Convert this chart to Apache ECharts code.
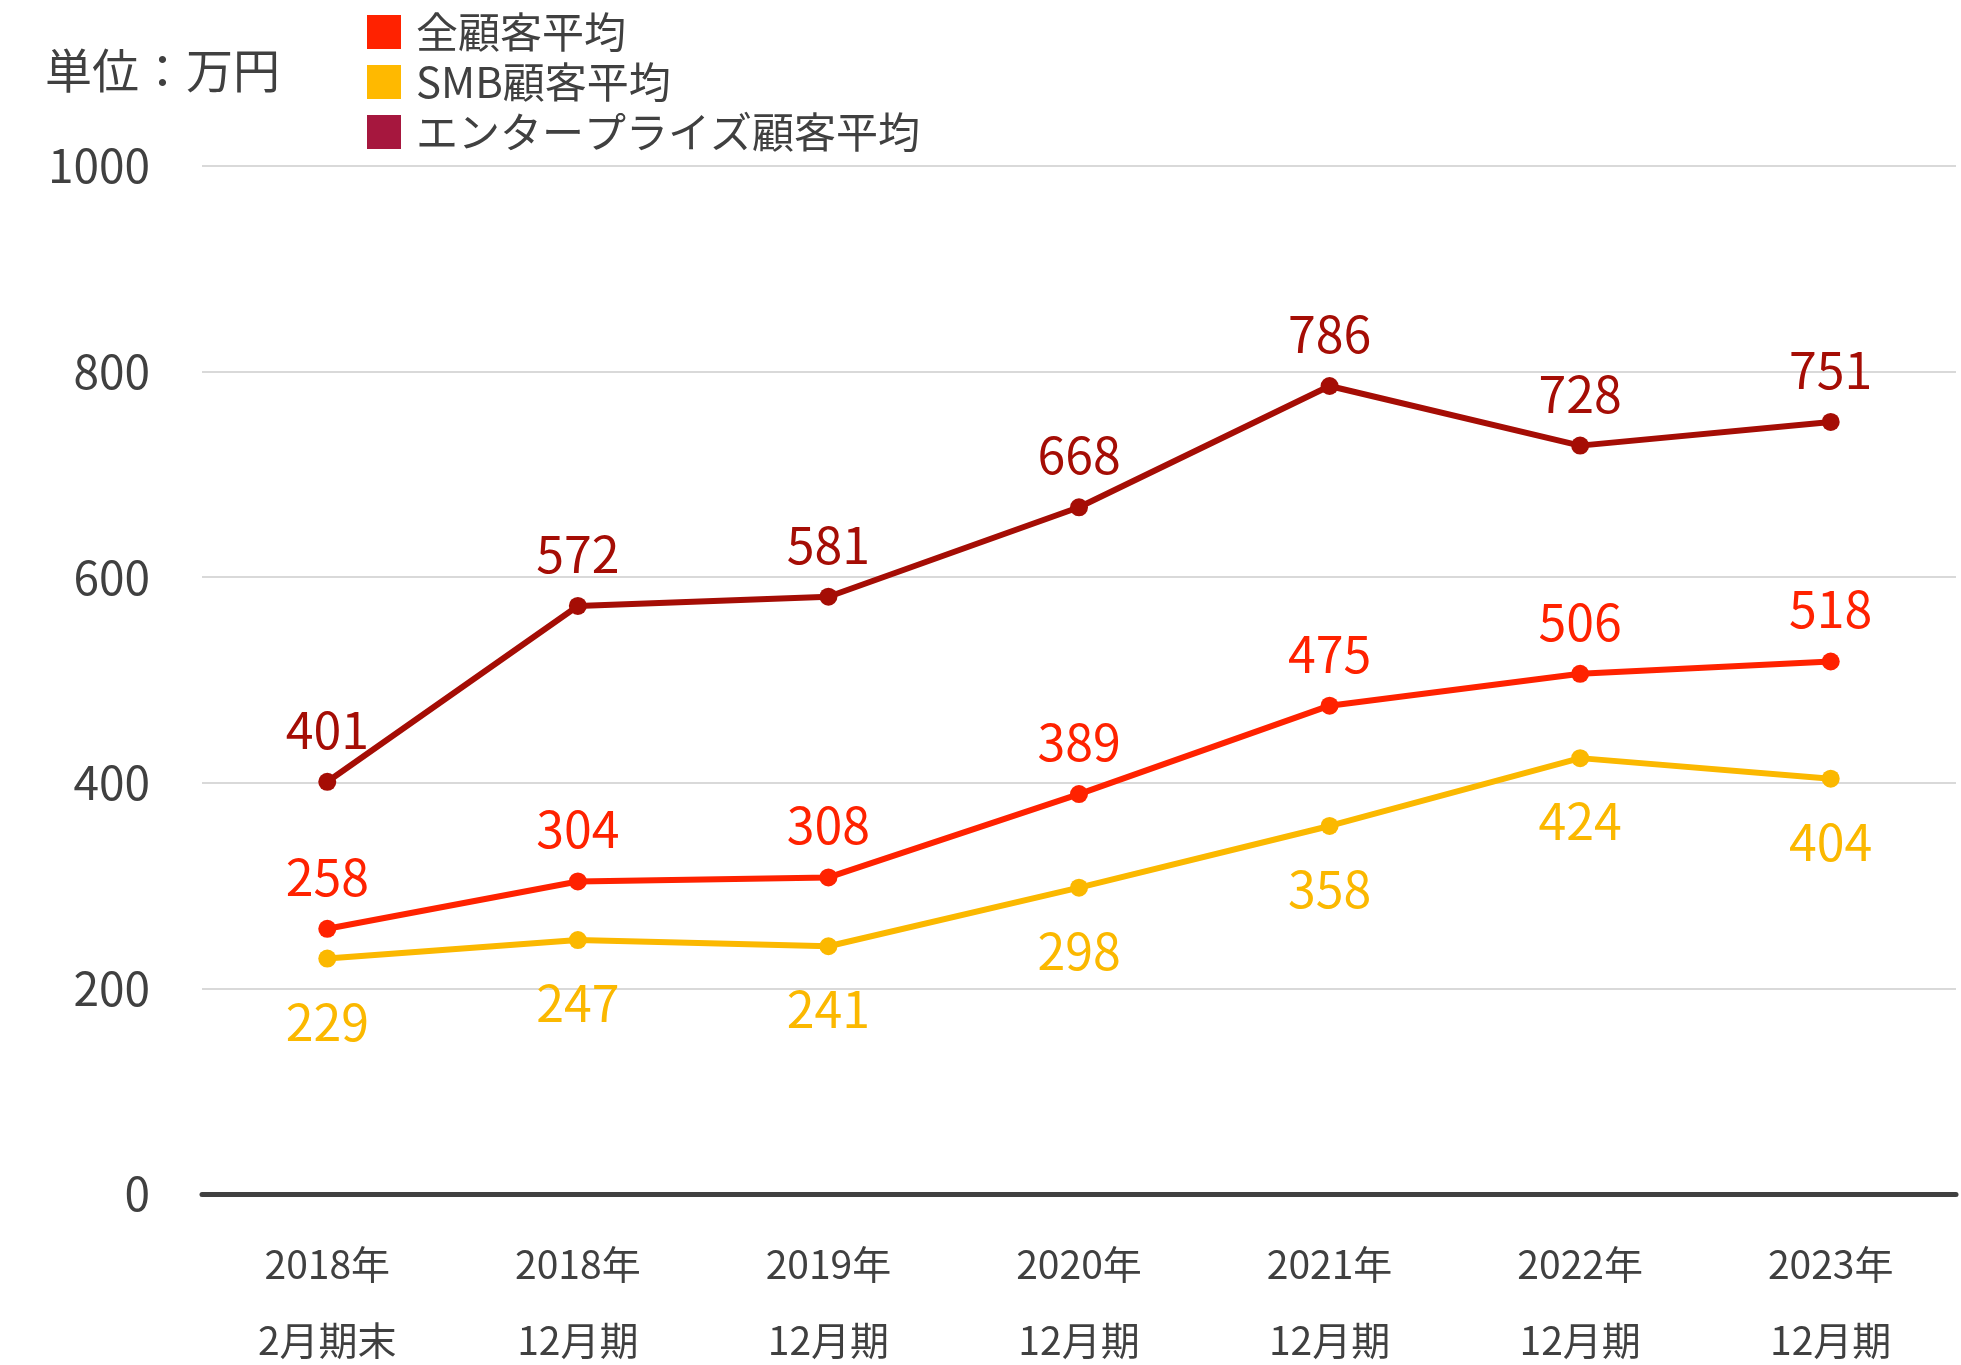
<!DOCTYPE html>
<html lang="ja">
	<head>
		<meta charset="utf-8" />
		<title>顧客平均</title>
		<style>
			html, body { margin: 0; padding: 0; background: #fff; }
			#chart { width: 1961px; height: 1365px; }
		</style>
	</head>
	<body>
		<div id="chart"></div>
		<script type="text/javascript" src="https://cdn.jsdelivr.net/npm/echarts@6/dist/echarts.min.js"></script>
		<script type="text/javascript">
			//カテゴリ
			const categories = ['2018年\n2月期末', '2018年\n12月期', '2019年\n12月期', '2020年\n12月期', '2021年\n12月期', '2022年\n12月期', '2023年\n12月期'];
			//系列データ
			const allAvg = [258, 304, 308, 389, 475, 506, 518];
			const smbAvg = [229, 247, 241, 298, 358, 424, 404];
			const entAvg = [401, 572, 581, 668, 786, 728, 751];
			const seriesNames = ['全顧客平均', 'SMB顧客平均', 'エンタープライズ顧客平均'];
			const yTicks = [0, 200, 400, 600, 800, 1000];

			const FONT = '"Noto Sans CJK JP", "Noto Sans", sans-serif';
			const chart = echarts.init(document.getElementById('chart'));

			const makeSeries = function(name, data, color, pos, dist) {
				return {
					name: name,
					type: 'line',
					data: data,
					symbol: 'circle',
					symbolSize: 18,
					lineStyle: { color: color, width: 6 },
					itemStyle: { color: color },
					label: {
						show: true,
						position: pos,
						distance: dist,
						color: color,
						fontSize: 50,
						fontFamily: FONT
					},
					z: 3
				};
			};

			const option = {
				animation: false,
				backgroundColor: '#fff',
				title: {
					text: '単位：万円',
					left: 40,
					top: 42,
					textStyle: { color: '#404040', fontSize: 47, fontWeight: 'normal', fontFamily: FONT }
				},
				legend: {
					orient: 'vertical',
					left: 362,
					top: 6,
					itemWidth: 34,
					itemHeight: 34,
					itemGap: 8,
					icon: 'rect',
					textStyle: { color: '#404040', fontSize: 42, lineHeight: 40, fontFamily: FONT, padding: [0, 0, 0, 10] },
					data: [
						{ name: seriesNames[0], itemStyle: { color: '#FF2200' } },
						{ name: seriesNames[1], itemStyle: { color: '#FFB900' } },
						{ name: seriesNames[2], itemStyle: { color: '#A6173E' } }
					]
				},
				grid: { left: 202, right: 5, top: 166, bottom: 171, containLabel: false, outerBoundsMode: 'none' },
				xAxis: {
					type: 'category',
					data: categories,
					boundaryGap: true,
					axisLine: { show: true, lineStyle: { color: '#404040', width: 5 } },
					axisTick: { show: false },
					axisLabel: {
						color: '#404040',
						fontSize: 39,
						fontFamily: FONT,
						lineHeight: 76,
						margin: 32
					}
				},
				yAxis: {
					type: 'value',
					min: yTicks[0],
					max: yTicks[yTicks.length - 1],
					interval: 200,
					axisLine: { show: false },
					axisTick: { show: false },
					splitLine: { lineStyle: { color: '#d9d9d9', width: 2 } },
					axisLabel: {
						color: '#404040',
						fontSize: 46,
						fontFamily: FONT,
						margin: 52,
						formatter: function(v) { return String(v); }
					}
				},
				series: [
					makeSeries(seriesNames[0], allAvg, '#FF2200', 'top', 18),
					makeSeries(seriesNames[1], smbAvg, '#FBB800', 'bottom', 29),
					makeSeries(seriesNames[2], entAvg, '#A50D05', 'top', 18)
				]
			};
			chart.setOption(option);

			window.onresize = function() {
				chart.resize();
			};
		</script>
	</body>
</html>
